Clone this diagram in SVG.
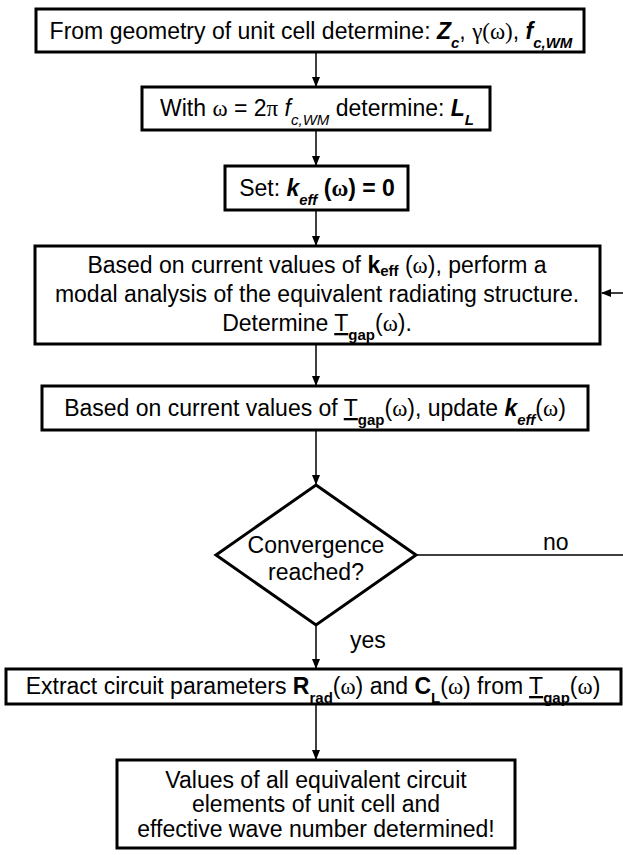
<svg xmlns="http://www.w3.org/2000/svg" width="623" height="855" viewBox="0 0 623 855">
<defs>
<marker id="ah" markerWidth="10" markerHeight="8" refX="9" refY="4" orient="auto" markerUnits="userSpaceOnUse">
<path d="M0,0 L10,4 L0,8 Z" fill="#000"/>
</marker>
<style>
.box{fill:#fff;stroke:#000;stroke-width:3}
.t{font-family:"Liberation Sans",Arial,sans-serif;font-size:23px;fill:#000;text-anchor:middle}
.lbl{font-family:"Liberation Sans",Arial,sans-serif;font-size:23px;fill:#000}
.g{font-family:"Liberation Serif","Times New Roman",serif}
.b{font-weight:bold}
.bi{font-weight:bold;font-style:italic}
.s{font-size:15px}
.u{text-decoration:underline}
.c{fill:none;stroke:#000;stroke-width:1.5}
</style>
</defs>
<rect width="623" height="855" fill="#fff"/>
<g id="connectors">
<line class="c" x1="316" y1="52" x2="316" y2="86" marker-end="url(#ah)"/>
<line class="c" x1="316" y1="130" x2="316" y2="165" marker-end="url(#ah)"/>
<line class="c" x1="316" y1="210" x2="316" y2="245" marker-end="url(#ah)"/>
<line class="c" x1="316" y1="344" x2="316" y2="385" marker-end="url(#ah)"/>
<line class="c" x1="316" y1="430" x2="316" y2="484" marker-end="url(#ah)"/>
<line class="c" x1="316" y1="625" x2="316" y2="668" marker-end="url(#ah)"/>
<line class="c" x1="316" y1="704" x2="316" y2="759" marker-end="url(#ah)"/>
<path class="c" d="M416,555 H632 V293 H602" marker-end="url(#ah)"/>
<text class="lbl" x="543" y="550">no</text>
<text class="lbl" x="350" y="648">yes</text>
</g>
<g id="n1">
<rect class="box" x="36" y="9" width="548" height="43"/>
<text class="t" x="311" y="39">From geometry of unit cell determine: <tspan class="bi">Z</tspan><tspan class="bi s" baseline-shift="sub">c</tspan>, <tspan class="g">γ(ω)</tspan>, <tspan class="bi">f</tspan><tspan class="bi s" baseline-shift="sub">c,WM</tspan></text>
</g>
<g id="n2">
<rect class="box" x="142" y="87" width="348" height="43"/>
<text class="t" x="317" y="116">With <tspan class="g">ω</tspan> = 2<tspan class="g">π</tspan> <tspan style="font-style:italic">f</tspan><tspan class="s" style="font-style:italic" baseline-shift="sub">c,WM</tspan> determine: <tspan class="bi">L</tspan><tspan class="bi s" baseline-shift="sub">L</tspan></text>
</g>
<g id="n3">
<rect class="box" x="225" y="166" width="183" height="44"/>
<text class="t" x="317" y="196">Set: <tspan class="bi">k</tspan><tspan class="bi s" baseline-shift="sub">eff</tspan><tspan class="b"> (<tspan class="g">ω</tspan>) = 0</tspan></text>
</g>
<g id="n4">
<rect class="box" x="35" y="246" width="565" height="98"/>
<text class="t" x="317" y="273">Based on current values of <tspan class="b">k</tspan><tspan class="b s" baseline-shift="-3">eff</tspan> (<tspan class="g">ω</tspan>), perform a</text>
<text class="t" x="317" y="302">modal analysis of the equivalent radiating structure.</text>
<text class="t" x="317" y="331">Determine <tspan class="u">T</tspan><tspan class="b s" baseline-shift="sub">gap</tspan>(<tspan class="g">ω</tspan>).</text>
</g>
<g id="n5">
<rect class="box" x="42" y="386" width="546" height="44"/>
<text class="t" x="315" y="416">Based on current values of <tspan class="u">T</tspan><tspan class="b s" baseline-shift="sub">gap</tspan>(<tspan class="g">ω</tspan>), update <tspan class="bi">k</tspan><tspan class="bi s" baseline-shift="sub">eff</tspan>(<tspan class="g">ω</tspan>)</text>
</g>
<g id="n6">
<polygon class="box" points="316,485 416,555 316,625 216,555"/>
<text class="t" x="316" y="553">Convergence</text>
<text class="t" x="316" y="580">reached?</text>
</g>
<g id="n7">
<rect class="box" x="6" y="669" width="615" height="35"/>
<text class="t" x="313" y="694">Extract circuit parameters <tspan class="b">R</tspan><tspan class="b s" baseline-shift="sub">rad</tspan>(<tspan class="g">ω</tspan>) and <tspan class="b">C</tspan><tspan class="b s" baseline-shift="sub">L</tspan>(<tspan class="g">ω</tspan>) from <tspan class="u">T</tspan><tspan class="b s" baseline-shift="sub">gap</tspan>(<tspan class="g">ω</tspan>)</text>
</g>
<g id="n8">
<rect class="box" x="117" y="760" width="398" height="88"/>
<text class="t" x="316" y="788">Values of all equivalent circuit</text>
<text class="t" x="316" y="812">elements of unit cell and</text>
<text class="t" x="316" y="837">effective wave number determined!</text>
</g>
</svg>
